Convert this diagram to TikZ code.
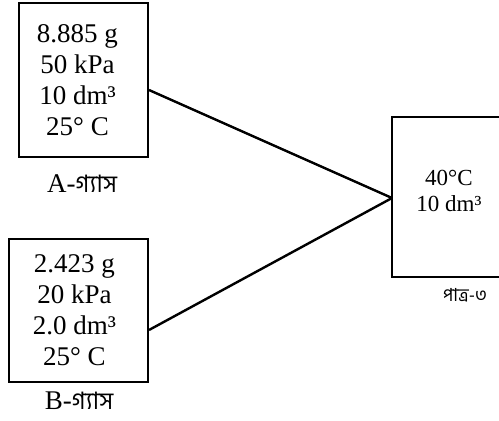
\documentclass[tikz,border=0pt]{standalone}
\usepackage{fontspec}
\setmainfont{Liberation Serif}
\newfontfamily\bnfont[Script=Bengali]{Hind Siliguri}
\begin{document}
\begin{tikzpicture}[x=1pt,y=-1pt,
  gasbox/.style={draw,line width=2pt,rectangle,inner sep=0pt},
  boxtxt/.style={inner sep=0pt,align=center,font=\fontsize{27}{31}\selectfont},
  conn/.style={line width=2.4pt},
  lbl/.style={inner sep=0pt,anchor=base,font=\fontsize{27}{30}\selectfont}]
\useasboundingbox (0,0) rectangle (499,421);
\node[gasbox,minimum width=129pt,minimum height=154pt] (A) at (83.5,80) {};
\node[boxtxt] (At) at ([xshift=-6pt]A.center) {8.885 g\\50 kPa\\10 dm³\\25° C};
\node[gasbox,minimum width=139pt,minimum height=143pt] (B) at (78.5,310.5) {};
\node[boxtxt] (Bt) at ([xshift=-4pt]B.center) {2.423 g\\20 kPa\\2.0 dm³\\25° C};
\node[lbl] (LA) at (82,192) {A-{\bnfont\fontsize{24}{26}\selectfont গ্যাস}};
\node[lbl] (LB) at (79,409) {B-{\bnfont\fontsize{24}{26}\selectfont গ্যাস}};
\coordinate (C) at (392,198);
\coordinate (Ctop) at (499,117);
\coordinate (Cbot) at (499,277);
\draw[line width=2pt] (Ctop) -| (392,277) -- (Cbot);
\node[inner sep=0pt,align=center,font=\fontsize{23}{26}\selectfont] (P) at (449,191)
  {40°C\\10 dm³};
\node[inner sep=0pt,font=\bnfont\fontsize{18}{20}\selectfont] (LP) at (465,295) {পাত্র-৩};
\draw[conn] ([yshift=-10pt]A.east) -- (C);
\draw[conn] ([yshift=-19.5pt]B.east) -- (C);
\end{tikzpicture}
\end{document}
